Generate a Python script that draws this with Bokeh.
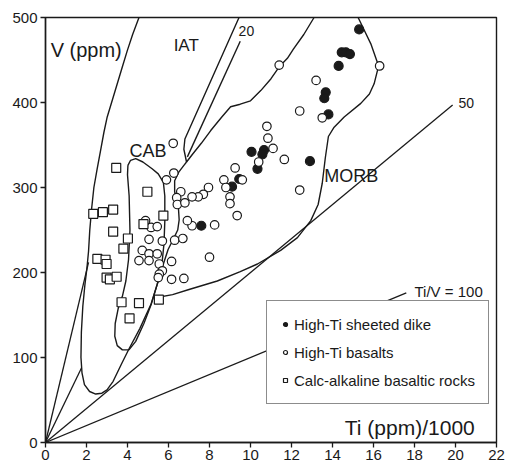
from bokeh.plotting import figure
from bokeh.models import Label, Legend, LegendItem, FixedTicker, Range1d
from bokeh.embed import file_html
from bokeh.resources import INLINE

# ---------------- data (Ti in ppm/1000, V in ppm) ----------------
dike_ti = [15.3, 14.45, 14.65, 14.85, 14.3, 13.67, 13.6, 13.8, 12.9, 10.66, 10.58, 10.05, 10.34, 9.45, 9.1, 7.6]
dike_v = [486, 459, 459, 457, 443, 412, 405, 386, 331, 344, 339, 342, 322, 310, 301, 255]

basalt_ti = [16.3, 11.4, 13.2, 12.4, 13.5, 10.8, 10.85, 11.1, 11.65, 10.4, 12.4, 9.25, 8.7, 8.8, 9.6,
             9.0, 9.0, 9.35, 7.95, 7.7, 7.45, 7.15, 7.15, 6.92, 8.25, 8.0,
             6.23, 6.26, 5.9, 6.6, 6.4, 6.43, 6.8, 4.88, 5.15, 5.45, 5.05, 5.7, 6.3, 6.7,
             4.72, 5.05, 5.45, 4.56, 5.05, 6.15, 5.55, 5.7, 5.55, 5.5, 6.15, 6.75]
basalt_v = [443, 444, 426, 390, 382, 372, 358, 346, 333, 330, 297, 323, 309, 300, 309,
            289, 281, 267, 300, 292, 289, 289, 255, 261, 256, 218,
            352, 317, 309, 295, 288, 280, 282, 261, 253, 254, 239, 237, 238, 240,
            226, 222, 222, 214, 214, 213, 210, 202, 198, 194, 192, 193]

calc_ti = [3.45, 4.97, 2.33, 2.8, 3.3, 5.75, 4.78, 3.3, 4.02, 3.8, 2.53, 2.93, 2.98, 2.98, 3.14, 3.47,
           3.71, 4.56, 5.53, 4.1]
calc_v = [323, 295, 269, 271, 274, 267, 257, 248, 240, 228, 216, 215, 210, 194, 192, 195,
          165, 164, 168, 146]

x_ticks = list(range(0, 23, 2))
y_ticks = [0, 100, 200, 300, 400, 500]

series_labels = ["High-Ti sheeted dike", "High-Ti basalts", "Calc-alkaline basaltic rocks"]

# field boundaries
arc_outer_ti = [4.56, 4.25, 3.99, 3.75, 3.5, 3.25, 3.01, 2.85, 2.69, 2.52, 2.36, 2.25, 2.16, 2.1, 2.02, 1.92,
                1.82, 1.75, 1.73, 1.78, 1.9, 2.15, 2.45, 2.75, 3.0, 3.3, 3.7, 4.07, 4.6, 5.15, 5.5, 5.75,
                5.98, 6.25, 6.45, 6.52, 6.48, 6.3, 6.3, 6.5, 6.75, 6.88]
arc_outer_v = [500, 480, 461, 442, 422, 402, 383, 365, 344, 322, 300, 275, 250, 225, 205, 185,
               160, 130, 100, 82, 68, 60, 57, 58, 62, 72, 92, 110, 134, 163, 190, 210,
               227, 240, 250, 262, 278, 295, 308, 318, 326, 330]

iat_right_ti = [6.88, 6.75, 6.8, 9.44]
iat_right_v = [330, 345, 357, 500]
ti_v20_ti = [6.92, 9.5]
ti_v20_v = [336, 472]

morb_top_ti = [6.88, 7.2, 7.6, 8.06, 8.6, 9.03, 9.5, 10.0, 10.5, 11.0, 11.4, 11.8, 12.1, 12.6, 13.1]
morb_top_v = [330, 340, 352, 367, 383, 395, 398, 402, 414, 428, 442, 452, 463, 480, 500]

morb_low_ti = [5.3, 6.2, 7.0, 8.38, 9.5, 10.34, 11.47, 12.29, 12.94, 13.3, 13.5, 13.65, 13.8, 14.08, 14.57,
               15.38, 15.8, 16.03, 16.25, 15.87, 15.55, 15.25]
morb_low_v = [170, 174, 180, 190, 201, 210, 226, 241, 261, 280, 305, 335, 360, 371, 383,
              399, 410, 422, 443, 469, 485, 500]

cab_ti = [4.02, 4.15, 4.4, 4.75, 5.2, 5.5, 5.75, 5.82, 5.82, 5.78, 5.68, 5.45, 5.15, 4.8, 4.4, 4.07,
          3.75, 3.5, 3.38, 3.4, 3.55, 3.75, 3.92, 4.05, 4.12, 4.08, 4.0, 4.02]
cab_v = [326, 332, 334, 330, 322, 316, 306, 290, 260, 234, 210, 186, 162, 140, 119, 109,
         109, 114, 125, 140, 158, 172, 190, 215, 250, 290, 315, 326]

ratio_lines = {  # Ti/V ratio lines from the origin (end points)
    "10": ([0, 2.1], [0, 212]),
    "20": ([0, 1.76], [0, 88]),
    "50": ([0, 19.86], [0, 397]),
    "100": ([0, 17.6], [0, 176]),
}

FONT = "Liberation Sans"
INK = "#1a1a1a"

p = figure(width=505, height=467, output_backend="svg", toolbar_location=None,
           x_range=Range1d(0, 22), y_range=Range1d(0, 500),
           min_border_left=45, min_border_right=9, min_border_top=17, min_border_bottom=25)
p.xgrid.visible = False
p.ygrid.visible = False
p.outline_line_color = INK
p.outline_line_width = 1.4
p.background_fill_color = "white"

for ax, ticks in ((p.xaxis[0], x_ticks), (p.yaxis[0], y_ticks)):
    ax.ticker = FixedTicker(ticks=ticks)
    ax.axis_line_color = INK
    ax.axis_line_width = 1.4
    ax.major_tick_line_color = INK
    ax.major_tick_line_width = 1.3
    ax.major_tick_out = 5
    ax.major_tick_in = 0
    ax.minor_tick_line_color = None
    ax.major_label_text_font = FONT
    ax.major_label_text_font_size = "15px"
    ax.major_label_text_color = INK
p.xaxis.major_label_standoff = 2
p.yaxis.major_label_standoff = 3

lw = 1.4
for xs, ys in [(arc_outer_ti, arc_outer_v), (iat_right_ti, iat_right_v), (ti_v20_ti, ti_v20_v),
               (morb_top_ti, morb_top_v), (morb_low_ti, morb_low_v), (cab_ti, cab_v)]:
    p.line(xs, ys, line_color=INK, line_width=lw)
for key, (xs, ys) in ratio_lines.items():
    p.line(xs, ys, line_color=INK, line_width=1.3)

r_dike = p.scatter(dike_ti, dike_v, marker="circle", size=9, fill_color=INK, line_color=INK, line_width=1.2)
r_bas = p.scatter(basalt_ti, basalt_v, marker="circle", size=8.5, fill_color="white", line_color=INK, line_width=1.2)
r_calc = p.scatter(calc_ti, calc_v, marker="square", size=9, fill_color="white", line_color=INK, line_width=1.2)

def add_label(x, y, text, size, align="left"):
    p.add_layout(Label(x=x, y=y, text=text, text_font=FONT, text_font_size=size,
                       text_color=INK, text_align=align, text_baseline="alphabetic"))

add_label(0.25, 462, "V (ppm)", "20px")
add_label(6.25, 467, "IAT", "17px")
add_label(9.42, 484, "20", "14px")
add_label(4.1, 343, "CAB", "18px")
add_label(13.6, 313, "MORB", "18px")
add_label(20.15, 399, "50", "14px")
add_label(18.0, 178, "Ti/V = 100", "15px")
add_label(14.6, 18, "Ti (ppm)/1000", "21px")

legend = Legend(items=[LegendItem(label=series_labels[0], renderers=[r_dike]),
                       LegendItem(label=series_labels[1], renderers=[r_bas]),
                       LegendItem(label=series_labels[2], renderers=[r_calc])],
                location=(221, 38))
legend.label_text_font = FONT
legend.label_text_font_size = "15px"
legend.label_text_color = INK
legend.border_line_color = INK
legend.border_line_width = 1.4
legend.background_fill_color = "white"
legend.background_fill_alpha = 1.0
legend.padding = 13
legend.spacing = 8
legend.margin = 0
legend.glyph_width = 10
legend.glyph_height = 20
legend.label_height = 20
legend.label_standoff = 4
p.add_layout(legend)

open("out.html", "w").write(file_html(p, INLINE))
